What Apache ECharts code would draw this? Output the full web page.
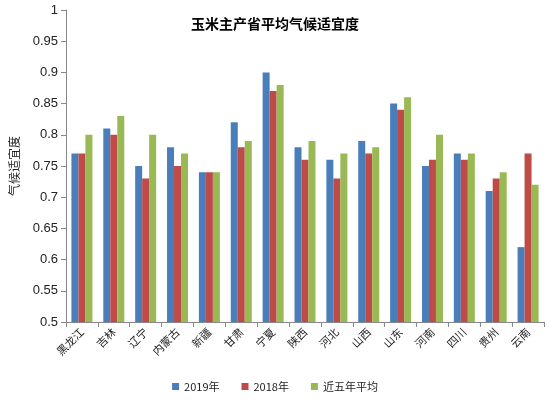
<!DOCTYPE html>
<html><head><meta charset="utf-8">
<script src="https://cdn.jsdelivr.net/npm/echarts@6/dist/echarts.min.js"></script>
<style>body{margin:0;background:#fff}#main{width:550px;height:403px}</style>
</head><body><div id="main"></div>
<script>
const provinces = ['黑龙江', '吉林', '辽宁', '内蒙古', '新疆', '甘肃', '宁夏', '陕西', '河北', '山西', '山东', '河南', '四川', '贵州', '云南'];
const y2019 = [0.77, 0.81, 0.75, 0.78, 0.74, 0.82, 0.90, 0.78, 0.76, 0.79, 0.85, 0.75, 0.77, 0.71, 0.62];
const y2018 = [0.77, 0.80, 0.73, 0.75, 0.74, 0.78, 0.87, 0.76, 0.73, 0.77, 0.84, 0.76, 0.76, 0.73, 0.77];
const avg5 = [0.80, 0.83, 0.80, 0.77, 0.74, 0.79, 0.88, 0.79, 0.77, 0.78, 0.86, 0.80, 0.77, 0.74, 0.72];

const myChart = echarts.init(document.getElementById('main'));
const font = '"Noto Sans CJK SC", serif';

function bar(name, data, color) {
    return {name: name, type: 'bar', data: data, barWidth: 7, barGap: '0%', itemStyle: {color: color}};
}

myChart.setOption({
    animation: false,
    title: {
        text: '玉米主产省平均气候适宜度',
        left: 'center', top: 12,
        textStyle: {fontSize: 14, fontWeight: 'bold', color: '#000', fontFamily: font}
    },
    legend: {
        bottom: 6, left: 'center', icon: 'rect', itemWidth: 7, itemHeight: 7, itemGap: 22,
        textStyle: {fontSize: 11, color: '#222', fontFamily: font},
        data: ['2019年', '2018年', '近五年平均']
    },
    grid: {left: 62, right: 6, top: 10, bottom: 81},
    xAxis: {
        type: 'category', data: provinces,
        axisLine: {lineStyle: {color: '#888'}},
        axisTick: {show: true, lineStyle: {color: '#888'}},
        axisLabel: {rotate: 45, interval: 0, fontSize: 11, color: '#222', fontFamily: font}
    },
    yAxis: {
        type: 'value', min: 0.5, max: 1, interval: 0.05,
        name: '气候适宜度', nameLocation: 'middle', nameGap: 46,
        nameTextStyle: {fontSize: 12, color: '#222', fontFamily: font},
        axisLine: {show: true, lineStyle: {color: '#888'}},
        axisTick: {show: true, lineStyle: {color: '#888'}},
        splitLine: {show: false},
        axisLabel: {fontSize: 13, color: '#222', formatter: v => +v.toFixed(2)}
    },
    series: [
        bar('2019年', y2019, '#4a7ebb'),
        bar('2018年', y2018, '#be4b48'),
        bar('近五年平均', avg5, '#98b954')
    ]
});
</script></body></html>
